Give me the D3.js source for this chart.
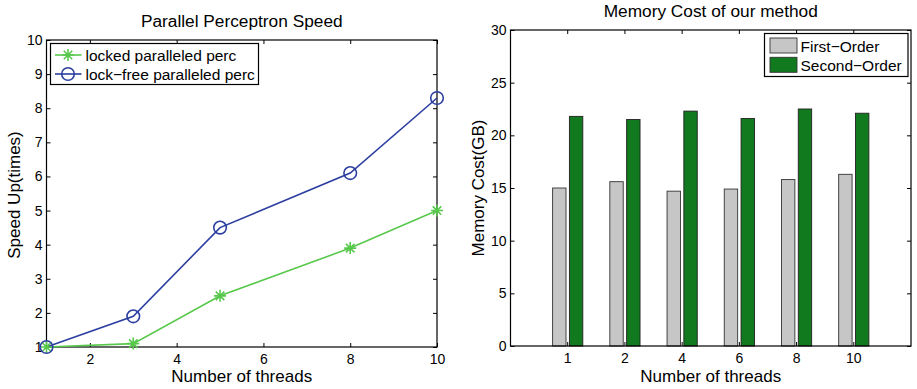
<!DOCTYPE html>
<html>
<head>
<meta charset="utf-8">
<script src="https://cdn.jsdelivr.net/npm/d3@7"></script>
<style>
  body { margin: 0; background: #fff; }
  svg { display: block; font-family: "Liberation Sans", Arial, sans-serif; }
  .axis path, .axis line { stroke: #000; }
</style>
</head>
<body>
<svg id="chart" width="917" height="389"></svg>
<script>
// speed-up chart
const threads = [1, 3, 5, 8, 10];
const lockedSpeed = [1, 1.1, 2.5, 3.9, 5];
const lockFreeSpeed = [1, 1.9, 4.5, 6.1, 8.3];
const speedXTicks = [2, 4, 6, 8, 10];
const speedYTicks = [1, 2, 3, 4, 5, 6, 7, 8, 9, 10];

// memory chart
const memThreads = ['1', '2', '4', '6', '8', '10'];
const firstOrder = [15, 15.6, 14.7, 14.9, 15.8, 16.3];
const secondOrder = [21.8, 21.5, 22.3, 21.6, 22.5, 22.1];
const memYTicks = [0, 5, 10, 15, 20, 25, 30];

const green = '#58c84c';
const blue = '#2c3fa0';
const barGray = '#c6c6c6';
const barGreen = '#117a1e';
const font = '"Liberation Sans", Arial, sans-serif';

const svg = d3.select('#chart');

// matlab-ish axis text
const styleAxis = g => g
    .attr('font-family', font)
    .attr('font-size', 14)
    .call(s => s.select('.domain').remove())
    .call(s => s.selectAll('text').attr('fill', '#000'));

// ---------- left: Parallel Perceptron Speed ----------
const L = { left: 46.5, right: 437, top: 40, bottom: 347 };
const xs = d3.scaleLinear().domain([1, 10]).range([L.left, L.right]);
const ys = d3.scaleLinear().domain([1, 10]).range([L.bottom, L.top]);

const left = svg.append('g');

left.append('g').attr('class', 'axis')
    .attr('transform', `translate(0,${L.bottom})`)
    .call(d3.axisBottom(xs).tickValues(speedXTicks).tickSize(-4).tickPadding(7).tickSizeOuter(0))
    .call(styleAxis);
left.append('g').attr('class', 'axis')
    .attr('transform', `translate(0,${L.top})`)
    .call(d3.axisTop(xs).tickValues(speedXTicks).tickSize(-4).tickFormat('').tickSizeOuter(0))
    .call(styleAxis);
left.append('g').attr('class', 'axis')
    .attr('transform', `translate(${L.left},0)`)
    .call(d3.axisLeft(ys).tickValues(speedYTicks).tickSize(-4).tickPadding(4).tickSizeOuter(0))
    .call(styleAxis);
left.append('g').attr('class', 'axis')
    .attr('transform', `translate(${L.right},0)`)
    .call(d3.axisRight(ys).tickValues(speedYTicks).tickSize(-4).tickFormat('').tickSizeOuter(0))
    .call(styleAxis);

left.append('rect')
    .attr('x', L.left).attr('y', L.top)
    .attr('width', L.right - L.left).attr('height', L.bottom - L.top)
    .attr('fill', 'none').attr('stroke', '#000').attr('stroke-width', 1.2);

const line = d3.line().x((d, i) => xs(threads[i])).y(d => ys(d));

// asterisk marker path
const star = r => {
    let p = '';
    for (let k = 0; k < 4; k++) {
        const a = k * Math.PI / 4;
        const dx = r * Math.cos(a), dy = r * Math.sin(a);
        p += `M${-dx},${-dy}L${dx},${dy}`;
    }
    return p;
};

left.append('path').datum(lockedSpeed)
    .attr('d', line).attr('fill', 'none').attr('stroke', green).attr('stroke-width', 1.6);
left.append('path').datum(lockFreeSpeed)
    .attr('d', line).attr('fill', 'none').attr('stroke', blue).attr('stroke-width', 1.6);

left.selectAll('.star').data(lockedSpeed).join('path')
    .attr('class', 'star')
    .attr('transform', (d, i) => `translate(${xs(threads[i])},${ys(d)})`)
    .attr('d', star(6)).attr('stroke', green).attr('stroke-width', 1.6);
left.selectAll('.circ').data(lockFreeSpeed).join('circle')
    .attr('class', 'circ')
    .attr('cx', (d, i) => xs(threads[i])).attr('cy', d => ys(d)).attr('r', 6.3)
    .attr('fill', 'none').attr('stroke', blue).attr('stroke-width', 1.6);

left.append('text')
    .attr('x', (L.left + L.right) / 2).attr('y', 27)
    .attr('text-anchor', 'middle').attr('font-size', 17.3)
    .text('Parallel Perceptron Speed');
left.append('text')
    .attr('x', (L.left + L.right) / 2).attr('y', 382)
    .attr('text-anchor', 'middle').attr('font-size', 17)
    .text('Number of threads');
left.append('text')
    .attr('transform', 'translate(20,195) rotate(-90)')
    .attr('text-anchor', 'middle').attr('font-size', 17)
    .text('Speed Up(times)');

// legend
const lg = left.append('g');
lg.append('rect').attr('x', 50.5).attr('y', 43.5).attr('width', 208).attr('height', 41)
    .attr('fill', '#fff').attr('stroke', '#000').attr('stroke-width', 1.2);
const legendL = [
    { label: 'locked paralleled perc', color: green, mark: 'star' },
    { label: 'lock\u2212free paralleled perc', color: blue, mark: 'circle' }
];
legendL.forEach((e, i) => {
    const cy = 55 + i * 19;
    lg.append('line').attr('x1', 55).attr('x2', 81.5).attr('y1', cy).attr('y2', cy)
        .attr('stroke', e.color).attr('stroke-width', 1.6);
    if (e.mark === 'star') {
        lg.append('path').attr('transform', `translate(68,${cy})`).attr('d', star(6))
            .attr('stroke', e.color).attr('stroke-width', 1.6);
    } else {
        lg.append('circle').attr('cx', 68).attr('cy', cy).attr('r', 6.3)
            .attr('fill', 'none').attr('stroke', e.color).attr('stroke-width', 1.6);
    }
    lg.append('text').attr('x', 85.5).attr('y', cy + 5.5).attr('font-size', 15.5).text(e.label);
});

// ---------- right: Memory Cost of our method ----------
const R = { left: 510.5, right: 911, top: 30, bottom: 346 };
const xb = d3.scaleBand().domain(memThreads)
    .range([R.left + (R.right - R.left) / 14, R.right - (R.right - R.left) / 14]).paddingInner(0).paddingOuter(0);
const step = xb.bandwidth();
const yb = d3.scaleLinear().domain([0, 30]).range([R.bottom, R.top]);
const barW = 13.4, barOff = 8.4;

const right = svg.append('g');
right.append('g').attr('class', 'axis')
    .attr('transform', `translate(0,${R.bottom})`)
    .call(d3.axisBottom(xb).tickSize(-4).tickPadding(7).tickSizeOuter(0))
    .call(styleAxis);
right.append('g').attr('class', 'axis')
    .attr('transform', `translate(0,${R.top})`)
    .call(d3.axisTop(xb).tickSize(-4).tickFormat('').tickSizeOuter(0))
    .call(styleAxis);
right.append('g').attr('class', 'axis')
    .attr('transform', `translate(${R.left},0)`)
    .call(d3.axisLeft(yb).tickValues(memYTicks).tickSize(-4).tickPadding(4).tickSizeOuter(0))
    .call(styleAxis);
right.append('g').attr('class', 'axis')
    .attr('transform', `translate(${R.right},0)`)
    .call(d3.axisRight(yb).tickValues(memYTicks).tickSize(-4).tickFormat('').tickSizeOuter(0))
    .call(styleAxis);

const cx = t => xb(t) + step / 2;
right.selectAll('.b1').data(firstOrder).join('rect')
    .attr('class', 'b1')
    .attr('x', (d, i) => cx(memThreads[i]) - barOff - barW / 2)
    .attr('y', d => yb(d)).attr('width', barW).attr('height', d => yb(0) - yb(d))
    .attr('fill', barGray).attr('stroke', '#333').attr('stroke-width', 0.9);
right.selectAll('.b2').data(secondOrder).join('rect')
    .attr('class', 'b2')
    .attr('x', (d, i) => cx(memThreads[i]) + barOff - barW / 2)
    .attr('y', d => yb(d)).attr('width', barW).attr('height', d => yb(0) - yb(d))
    .attr('fill', barGreen).attr('stroke', '#222').attr('stroke-width', 0.9);

right.append('rect')
    .attr('x', R.left).attr('y', R.top)
    .attr('width', R.right - R.left).attr('height', R.bottom - R.top)
    .attr('fill', 'none').attr('stroke', '#000').attr('stroke-width', 1.2);

right.append('text')
    .attr('x', (R.left + R.right) / 2).attr('y', 17)
    .attr('text-anchor', 'middle').attr('font-size', 17.3)
    .text('Memory Cost of our method');
right.append('text')
    .attr('x', (R.left + R.right) / 2).attr('y', 382)
    .attr('text-anchor', 'middle').attr('font-size', 17)
    .text('Number of threads');
right.append('text')
    .attr('transform', 'translate(484,188) rotate(-90)')
    .attr('text-anchor', 'middle').attr('font-size', 17)
    .text('Memory Cost(GB)');

const rg = right.append('g');
rg.append('rect').attr('x', 764.5).attr('y', 33.5).attr('width', 143.5).attr('height', 43)
    .attr('fill', '#fff').attr('stroke', '#000').attr('stroke-width', 1.2);
const legendR = [
    { label: 'First\u2212Order', color: barGray },
    { label: 'Second\u2212Order', color: barGreen }
];
legendR.forEach((e, i) => {
    const y0 = 38 + i * 19.3;
    rg.append('rect').attr('x', 770).attr('y', y0).attr('width', 27).attr('height', 15)
        .attr('fill', e.color).attr('stroke', '#333').attr('stroke-width', 0.9);
    rg.append('text').attr('x', 800.5).attr('y', y0 + 13.5).attr('font-size', 15.5).text(e.label);
});
</script>
</body>
</html>
